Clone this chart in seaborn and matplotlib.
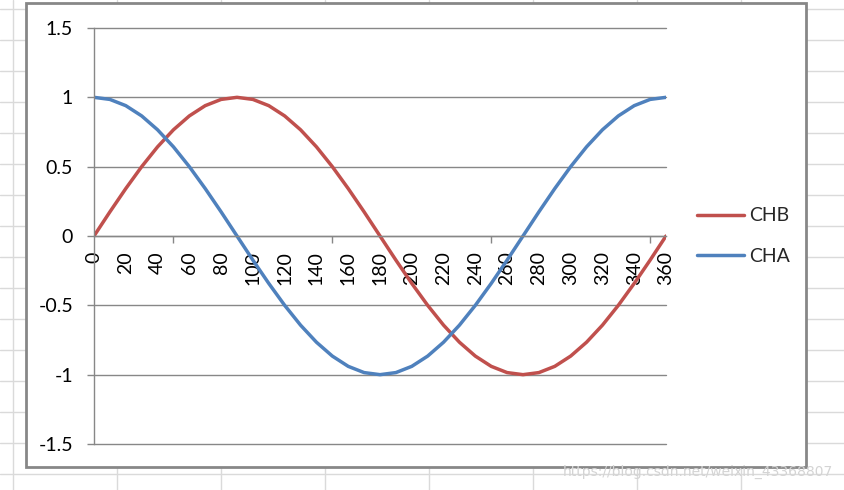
import numpy as np
import pandas as pd
import matplotlib
matplotlib.use('Agg')
import matplotlib.pyplot as plt
from matplotlib.patches import Rectangle
from matplotlib.ticker import MultipleLocator, FixedLocator
import seaborn as sns

# data (one point every 10 degrees)
angles = [0, 10, 20, 30, 40, 50, 60, 70, 80, 90, 100, 110, 120, 130, 140, 150, 160, 170, 180,
          190, 200, 210, 220, 230, 240, 250, 260, 270, 280, 290, 300, 310, 320, 330, 340, 350, 360]
chb = [0, 0.174, 0.342, 0.5, 0.643, 0.766, 0.866, 0.94, 0.985, 1, 0.985, 0.94, 0.866, 0.766,
       0.643, 0.5, 0.342, 0.174, 0, -0.174, -0.342, -0.5, -0.643, -0.766, -0.866, -0.94, -0.985,
       -1, -0.985, -0.94, -0.866, -0.766, -0.643, -0.5, -0.342, -0.174, 0]
cha = [1, 0.985, 0.94, 0.866, 0.766, 0.643, 0.5, 0.342, 0.174, 0, -0.174, -0.342, -0.5, -0.643,
       -0.766, -0.866, -0.94, -0.985, -1, -0.985, -0.94, -0.866, -0.766, -0.643, -0.5, -0.342,
       -0.174, 0, 0.174, 0.342, 0.5, 0.643, 0.766, 0.866, 0.94, 0.985, 1]
series_names = ['CHB', 'CHA']
series_colors = ['#C0504D', '#4F81BD']
x_labels = list(range(0, 361, 20))
y_ticks = [-1.5, -1, -0.5, 0, 0.5, 1, 1.5]
y_labels = ['-1.5', '-1', '-0.5', '0', '0.5', '1', '1.5']

df = pd.DataFrame({
    'angle': angles * 2,
    'value': chb + cha,
    'series': ['CHB'] * len(angles) + ['CHA'] * len(angles),
})

sns.set_style('white')
plt.rcParams['font.family'] = ['Lato', 'DejaVu Sans']

W, H = 844, 490
fig = plt.figure(figsize=(W / 100, H / 100), dpi=100)

# spreadsheet grid behind the chart
bg = fig.add_axes([0, 0, 1, 1])
bg.set_xlim(0, W)
bg.set_ylim(H, 0)
bg.axis('off')
for gx in [13, 117, 221, 325, 429, 533, 637, 741]:
    bg.axvline(gx, color='#dadada', lw=1, zorder=1)
for gy in range(9, H, 31):
    bg.axhline(gy, color='#dadada', lw=1, zorder=1)
bg.add_patch(Rectangle((26, 3), 780, 464, facecolor='white', edgecolor='#878787',
                       lw=2, zorder=3))
bg.text(833, 472, 'https://blog.csdn.net/weixin_43368807', ha='right', va='center',
        fontsize=10, color='#d4d4d4', family=['DejaVu Sans'], zorder=4)

# plot area
left, right, top, bottom = 94, 666, 28, 444
ax = fig.add_axes([left / W, 1 - bottom / H, (right - left) / W, (bottom - top) / H])
ax.patch.set_alpha(0)
sns.lineplot(data=df, x='angle', y='value', hue='series', hue_order=series_names,
             palette=series_colors, linewidth=2.5, ax=ax, legend=True)

ax.set_xlim(0, 360)
ax.set_ylim(-1.5, 1.5)
ax.set_xlabel('')
ax.set_ylabel('')

for s in ['top', 'right']:
    ax.spines[s].set_visible(False)
ax.spines['left'].set_color('#878787')
ax.spines['left'].set_linewidth(1)
ax.spines['bottom'].set_position(('data', 0))
ax.spines['bottom'].set_color('#878787')
ax.spines['bottom'].set_linewidth(1)

ax.set_yticks(y_ticks)
ax.set_yticklabels(y_labels)
ax.yaxis.grid(True, color='#878787', lw=1)
for gl in ax.get_ygridlines():
    gl.set_clip_on(False)
ax.tick_params(axis='y', direction='out', length=5, width=1, color='#878787',
               pad=10, labelsize=14, labelcolor='black', left=True)

ax.xaxis.set_major_locator(FixedLocator(x_labels))
ax.set_xticklabels([str(v) for v in x_labels], rotation=90)
ax.xaxis.set_minor_locator(MultipleLocator(50))
ax.tick_params(axis='x', which='major', length=0, pad=11, labelsize=14, labelcolor='black')
ax.tick_params(axis='x', which='minor', direction='out', length=5, width=1,
               color='#878787', bottom=True)

handles, labels = ax.get_legend_handles_labels()
ax.legend(handles, labels, loc='center left', bbox_to_anchor=(697 / W, 1 - 236 / H),
          bbox_transform=fig.transFigure, frameon=False, fontsize=14,
          handlelength=2.4, handletextpad=0.3, labelspacing=1.2, borderpad=0,
          borderaxespad=0)

fig.savefig('out.png', dpi=100)
